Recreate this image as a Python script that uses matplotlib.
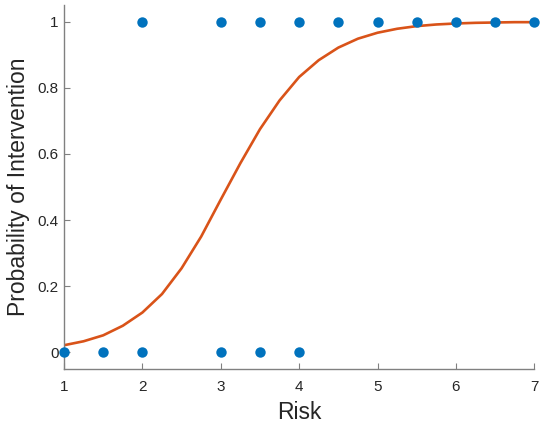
import numpy as np
import matplotlib.pyplot as plt

plt.rcParams['font.family'] = ['Liberation Sans', 'DejaVu Sans']

# observed outcomes
risk = [1, 1.5, 2, 3, 3.5, 4, 2, 3, 3.5, 4, 4.5, 5, 5.5, 6, 6.5, 7]
intervention = [0, 0, 0, 0, 0, 0, 1, 1, 1, 1, 1, 1, 1, 1, 1, 1]

# fitted probability curve
curve_x = [1.0, 1.25, 1.5, 1.75, 2.0, 2.25, 2.5, 2.75, 3.0, 3.25, 3.5, 3.75, 4.0,
           4.25, 4.5, 4.75, 5.0, 5.25, 5.5, 5.75, 6.0, 6.25, 6.5, 6.75, 7.0]
curve_p = [0.021, 0.033, 0.051, 0.080, 0.120, 0.176, 0.254, 0.350, 0.462, 0.572, 0.675,
           0.762, 0.833, 0.884, 0.922, 0.949, 0.967, 0.979, 0.987, 0.992, 0.995,
           0.997, 0.998, 0.999, 0.999]

fig = plt.figure(figsize=(5.5, 4.29), dpi=100)
ax = fig.add_axes([0.1164, 0.1406, 0.855, 0.847])

ax.plot(curve_x, curve_p, color='#D95319', lw=1.9, zorder=2,
        solid_joinstyle='round', solid_capstyle='round')
ax.plot(risk, intervention, 'o', color='#0072BD', ms=7.5, mec='none', zorder=3, clip_on=False)

ax.set_xlim(1, 7)
ax.set_ylim(-0.05, 1.05)
ax.set_xticks([1, 2, 3, 4, 5, 6, 7])
ax.set_yticks([0, 0.2, 0.4, 0.6, 0.8, 1])
ax.set_yticklabels(['0', '0.2', '0.4', '0.6', '0.8', '1'])

for s in ['top', 'right']:
    ax.spines[s].set_visible(False)
for s in ['left', 'bottom']:
    ax.spines[s].set_color('#808080')
    ax.spines[s].set_linewidth(1.0)
ax.tick_params(direction='in', length=4, color='#808080', labelcolor='#262626', labelsize=11)
ax.tick_params(axis='x', pad=8)
ax.tick_params(axis='y', pad=4)

ax.set_xlabel('Risk', fontsize=16.5, color='#262626', labelpad=5)
ax.set_ylabel('Probability of Intervention', fontsize=16.5, color='#262626', labelpad=5)

fig.savefig('out.png', dpi=100)
